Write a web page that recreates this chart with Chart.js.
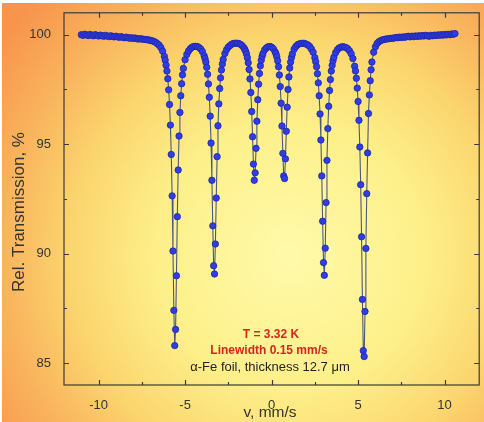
<!DOCTYPE html>
<html>
<head>
<meta charset="utf-8">
<script src="https://cdn.jsdelivr.net/npm/chart.js@4.4.1/dist/chart.umd.min.js"></script>
<style>
  html, body { margin: 0; padding: 0; background: #fff; }
  #wrap { width: 484px; height: 422px; }
</style>
</head>
<body>
<div id="wrap"><canvas id="spectrum" width="484" height="422"></canvas></div>
<script>
// velocity, mm/s
let velocity = [
  -11.0, -10.9, -10.8, -10.7, -10.6, -10.5, -10.4, -10.3, -10.2, -10.1,
  -10.0, -9.9, -9.8, -9.7, -9.6, -9.5, -9.4, -9.3, -9.2, -9.1,
  -9.0, -8.9, -8.8, -8.7, -8.6, -8.5, -8.4, -8.3, -8.2, -8.1,
  -8.0, -7.9, -7.8, -7.7, -7.6, -7.5, -7.4, -7.3, -7.2, -7.1,
  -7.0, -6.9, -6.8, -6.7, -6.6, -6.5, -6.4, -6.3, -6.2, -6.15,
  -6.1, -6.05, -6.0, -5.95, -5.9, -5.85, -5.8, -5.75, -5.7, -5.65,
  -5.6, -5.55, -5.5, -5.45, -5.4, -5.35, -5.3, -5.25, -5.2, -5.15,
  -5.1, -5.0, -4.9, -4.8, -4.7, -4.6, -4.5, -4.4, -4.3, -4.2,
  -4.1, -4.0, -3.9, -3.85, -3.8, -3.75, -3.7, -3.65, -3.6, -3.55,
  -3.5, -3.45, -3.4, -3.35, -3.3, -3.25, -3.2, -3.15, -3.1, -3.05,
  -3.0, -2.95, -2.9, -2.85, -2.8, -2.7, -2.6, -2.5, -2.4, -2.3,
  -2.2, -2.1, -2.0, -1.9, -1.8, -1.7, -1.6, -1.55, -1.5, -1.45,
  -1.4, -1.35, -1.3, -1.25, -1.2, -1.15, -1.1, -1.05, -1.0, -0.95,
  -0.9, -0.85, -0.8, -0.75, -0.7, -0.65, -0.6, -0.55, -0.5, -0.4,
  -0.3, -0.2, -0.1, 0.0, 0.1, 0.2, 0.25, 0.3, 0.35, 0.4,
  0.45, 0.5, 0.55, 0.6, 0.65, 0.7, 0.75, 0.8, 0.85, 0.9,
  0.95, 1.0, 1.05, 1.1, 1.15, 1.2, 1.3, 1.4, 1.5, 1.6,
  1.7, 1.8, 1.9, 2.0, 2.1, 2.2, 2.3, 2.4, 2.5, 2.55,
  2.6, 2.65, 2.7, 2.75, 2.8, 2.85, 2.9, 2.95, 3.0, 3.05,
  3.1, 3.15, 3.2, 3.25, 3.3, 3.35, 3.4, 3.45, 3.5, 3.55,
  3.6, 3.7, 3.8, 3.9, 4.0, 4.1, 4.2, 4.3, 4.4, 4.5,
  4.6, 4.7, 4.8, 4.85, 4.9, 4.95, 5.0, 5.05, 5.1, 5.15,
  5.2, 5.25, 5.3, 5.35, 5.4, 5.45, 5.5, 5.55, 5.6, 5.65,
  5.7, 5.75, 5.8, 5.9, 6.0, 6.1, 6.2, 6.3, 6.4, 6.5,
  6.6, 6.7, 6.8, 6.9, 7.0, 7.1, 7.2, 7.3, 7.4, 7.5,
  7.6, 7.7, 7.8, 7.9, 8.0, 8.1, 8.2, 8.3, 8.4, 8.5,
  8.6, 8.7, 8.8, 8.9, 9.0, 9.1, 9.2, 9.3, 9.4, 9.5,
  9.6, 9.7, 9.8, 9.9, 10.0, 10.1, 10.2, 10.3, 10.4, 10.5,
  10.6
];
// relative transmission, %
let transmission = [
  100.00, 99.97, 100.02, 99.99, 99.96, 100.01, 99.98, 99.95, 100.00, 99.97,
  99.94, 99.98, 99.95, 99.93, 99.97, 99.94, 99.91, 99.95, 99.92, 99.90,
  99.93, 99.90, 99.88, 99.91, 99.88, 99.86, 99.89, 99.86, 99.84, 99.86,
  99.83, 99.85, 99.82, 99.80, 99.82, 99.80, 99.79, 99.78, 99.77, 99.76,
  99.74, 99.72, 99.69, 99.65, 99.59, 99.52, 99.41, 99.25, 99.01, 98.84,
  98.61, 98.34, 97.99, 97.48, 96.81, 95.87, 94.53, 92.64, 90.12, 87.41,
  85.80, 86.54, 88.99, 91.69, 93.82, 95.37, 96.45, 97.21, 97.76, 98.17,
  98.46, 98.86, 99.10, 99.26, 99.36, 99.43, 99.46, 99.47, 99.46, 99.42,
  99.35, 99.23, 99.04, 98.91, 98.75, 98.51, 98.19, 97.75, 97.14, 96.28,
  95.05, 93.35, 91.27, 89.45, 89.07, 90.44, 92.54, 94.43, 95.84, 96.84,
  97.54, 98.03, 98.39, 98.66, 98.87, 99.14, 99.32, 99.44, 99.51, 99.57,
  99.60, 99.61, 99.61, 99.60, 99.56, 99.50, 99.40, 99.33, 99.24, 99.12,
  98.95, 98.72, 98.41, 97.98, 97.36, 96.49, 95.34, 94.09, 93.35, 93.69,
  94.81, 96.05, 97.03, 97.74, 98.23, 98.58, 98.83, 99.01, 99.14, 99.31,
  99.40, 99.45, 99.46, 99.43, 99.36, 99.22, 99.14, 99.00, 98.81, 98.54,
  98.16, 97.63, 96.87, 95.83, 94.58, 93.55, 93.43, 94.33, 95.59, 96.69,
  97.50, 98.07, 98.48, 98.75, 98.96, 99.12, 99.34, 99.46, 99.54, 99.58,
  99.60, 99.61, 99.60, 99.57, 99.53, 99.46, 99.35, 99.20, 98.95, 98.77,
  98.54, 98.22, 97.80, 97.21, 96.38, 95.19, 93.55, 91.48, 89.59, 89.01,
  90.25, 92.33, 94.26, 95.71, 96.73, 97.45, 97.95, 98.34, 98.60, 98.81,
  98.97, 99.18, 99.31, 99.39, 99.43, 99.45, 99.44, 99.41, 99.36, 99.27,
  99.13, 98.91, 98.56, 98.34, 98.01, 97.56, 96.95, 96.09, 94.87, 93.15,
  90.77, 87.91, 85.57, 85.30, 87.36, 90.24, 92.74, 94.60, 96.40, 97.25,
  97.90, 98.40, 98.75, 99.20, 99.45, 99.60, 99.68, 99.73, 99.76, 99.78,
  99.80, 99.81, 99.82, 99.83, 99.84, 99.85, 99.87, 99.86, 99.89, 99.87,
  99.90, 99.88, 99.91, 99.93, 99.90, 99.93, 99.91, 99.94, 99.92, 99.95,
  99.93, 99.96, 99.94, 99.97, 99.95, 99.93, 99.97, 99.95, 99.98, 99.96,
  99.99, 99.97, 100.00, 99.98, 100.01, 99.99, 100.02, 100.00, 100.03, 100.02,
  100.05
];
let xTicks = [-10, -5, 0, 5, 10];
let yTicks = [85, 90, 95, 100];
let notes = ['T = 3.32 K', 'Linewidth 0.15 mm/s', '\u03b1-Fe foil, thickness 12.7 \u03bcm'];

let points = velocity.map((v, i) => ({ x: v, y: transmission[i] }));

// orange/yellow backdrop behind everything
const backdrop = {
  id: 'backdrop',
  beforeDraw(chart) {
    const c = chart.ctx;
    c.save();
    c.fillStyle = '#ffffff';
    c.fillRect(0, 0, chart.width, chart.height);
    let g = c.createRadialGradient(290, 255, 10, 290, 255, 360);
    g.addColorStop(0, '#fff9a8');
    g.addColorStop(0.35, '#fdf08a');
    g.addColorStop(0.6, '#fbd56e');
    g.addColorStop(0.8, '#f9b25c');
    g.addColorStop(1, '#f8944c');
    c.fillStyle = g;
    c.fillRect(2, 3, chart.width - 2, chart.height - 3);
    c.restore();
  }
};

// frame, inward ticks on four sides, titles and notes
const frame = {
  id: 'frame',
  afterDatasetsDraw(chart) {
    const c = chart.ctx;
    const a = chart.chartArea;
    const xs = chart.scales.x, ys = chart.scales.y;
    c.save();
    c.strokeStyle = '#3a3a3a';
    c.lineWidth = 1.2;
    c.strokeRect(a.left, a.top, a.right - a.left, a.bottom - a.top);
    c.beginPath();
    xs.ticks.forEach(t => {
      let px = Math.round(xs.getPixelForValue(t.value)) + 0.5;
      let len = xTicks.includes(t.value) ? 5 : 3;
      c.moveTo(px, a.bottom); c.lineTo(px, a.bottom - len);
      c.moveTo(px, a.top); c.lineTo(px, a.top + len);
    });
    ys.ticks.forEach(t => {
      let py = Math.round(ys.getPixelForValue(t.value)) + 0.5;
      let len = yTicks.includes(t.value) ? 5 : 3;
      c.moveTo(a.left, py); c.lineTo(a.left + len, py);
      c.moveTo(a.right, py); c.lineTo(a.right - len, py);
    });
    c.stroke();

    c.fillStyle = '#333';
    c.textAlign = 'center';
    c.textBaseline = 'middle';
    c.font = '15.5px "Liberation Sans", Arial, sans-serif';
    c.fillText('v, mm/s', 270, 413);
    c.save();
    c.translate(19, 212);
    c.rotate(-Math.PI / 2);
    c.font = '17px "Liberation Sans", Arial, sans-serif';
    c.fillText('Rel. Transmission, %', 0, 0);
    c.restore();

    c.font = 'bold 12px "Liberation Sans", Arial, sans-serif';
    c.fillStyle = '#d8261c';
    c.fillText(notes[0], 271, 335);
    c.fillText(notes[1], 269, 351);
    c.font = '13px "Liberation Sans", Arial, sans-serif';
    c.fillStyle = '#222';
    c.fillText(notes[2], 270, 367);
    c.restore();
  }
};

new Chart(document.getElementById('spectrum'), {
  type: 'scatter',
  data: {
    datasets: [{
      data: points,
      showLine: true,
      borderColor: '#4c5878',
      borderWidth: 1.1,
      pointRadius: 3.2,
      pointBackgroundColor: '#2e3ee4',
      pointBorderColor: '#1e25a8',
      pointBorderWidth: 0.8
    }]
  },
  options: {
    responsive: false,
    animation: false,
    layout: { padding: { top: 12, right: 2, left: 0, bottom: 0 } },
    plugins: { legend: { display: false }, tooltip: { enabled: false } },
    scales: {
      x: {
        type: 'linear',
        min: -12, max: 12,
        grid: { display: false },
        border: { display: false },
        ticks: {
          stepSize: 2.5, includeBounds: false, autoSkip: false, maxRotation: 0,
          padding: 5, color: '#333',
          font: { family: '"Liberation Sans", Arial, sans-serif', size: 13 },
          callback: v => xTicks.includes(v) ? String(v) : ''
        },
        afterFit: s => { s.height = 37; }
      },
      y: {
        min: 84, max: 101,
        grid: { display: false },
        border: { display: false },
        ticks: {
          stepSize: 2.5, includeBounds: false, autoSkip: false,
          padding: 5, color: '#333',
          font: { family: '"Liberation Sans", Arial, sans-serif', size: 13 },
          callback: v => yTicks.includes(v) ? String(v) : ''
        },
        afterFit: s => { s.width = 64; }
      }
    }
  },
  plugins: [backdrop, frame]
});
</script>
</body>
</html>
